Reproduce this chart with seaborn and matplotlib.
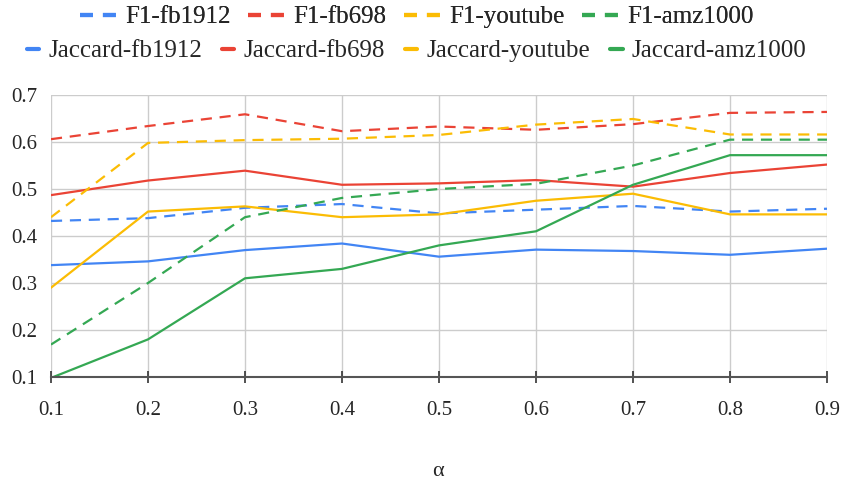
import matplotlib
matplotlib.use("Agg")
import matplotlib.pyplot as plt
from matplotlib.lines import Line2D
import pandas as pd
import seaborn as sns

sns.set_theme(style="whitegrid")
plt.rcParams['font.family'] = ['Liberation Serif', 'DejaVu Serif']

# values
alpha = [0.1, 0.2, 0.3, 0.4, 0.5, 0.6, 0.7, 0.8, 0.9]
datasets = ['fb1912', 'fb698', 'youtube', 'amz1000']

f1_fb1912 = [0.432, 0.438, 0.460, 0.468, 0.448, 0.456, 0.464, 0.452, 0.458]
f1_fb698 = [0.606, 0.634, 0.659, 0.623, 0.633, 0.626, 0.638, 0.662, 0.664]
f1_youtube = [0.440, 0.598, 0.604, 0.607, 0.615, 0.637, 0.649, 0.616, 0.616]
f1_amz1000 = [0.169, 0.300, 0.440, 0.481, 0.500, 0.511, 0.550, 0.605, 0.605]

jac_fb1912 = [0.338, 0.346, 0.370, 0.384, 0.356, 0.371, 0.368, 0.360, 0.373]
jac_fb698 = [0.487, 0.518, 0.539, 0.509, 0.512, 0.519, 0.505, 0.534, 0.552]
jac_youtube = [0.290, 0.452, 0.463, 0.440, 0.446, 0.475, 0.490, 0.446, 0.446]
jac_amz1000 = [0.098, 0.180, 0.310, 0.330, 0.380, 0.410, 0.509, 0.572, 0.572]

y_ticks = [0.1, 0.2, 0.3, 0.4, 0.5, 0.6, 0.7]

colors = {'fb1912': '#4285F4', 'fb698': '#EA4335',
          'youtube': '#FBBC04', 'amz1000': '#34A853'}

f1 = dict(zip(datasets, [f1_fb1912, f1_fb698, f1_youtube, f1_amz1000]))
jac = dict(zip(datasets, [jac_fb1912, jac_fb698, jac_youtube, jac_amz1000]))

fig = plt.figure(figsize=(8.43, 4.88), dpi=100)
ax = fig.add_axes([0.0605, 0.2275, 0.9205, 0.5778])

for name in datasets:
    df_f1 = pd.DataFrame({'alpha': alpha, 'value': f1[name]})
    sns.lineplot(data=df_f1, x='alpha', y='value', ax=ax, color=colors[name],
                 linewidth=1.6)
    ax.lines[-1].set_dashes([5, 3.5])
    df_j = pd.DataFrame({'alpha': alpha, 'value': jac[name]})
    sns.lineplot(data=df_j, x='alpha', y='value', ax=ax, color=colors[name],
                 linewidth=1.6)

ax.set_xlim(0.1, 0.9)
ax.set_ylim(0.1, 0.7)
ax.set_xticks(alpha)
ax.set_xticklabels([f'{a:.1f}' for a in alpha])
ax.set_yticks(y_ticks)
ax.set_yticklabels([f'{v:.1f}' for v in y_ticks])
ax.grid(True, color='#cccccc', linewidth=1)
for side in ['left', 'right', 'top']:
    ax.spines[side].set_visible(False)
ax.spines['bottom'].set_color('#555555')
ax.spines['bottom'].set_linewidth(1.5)
ax.tick_params(axis='x', direction='inout', length=8, width=1.2,
               color='#333333', pad=13, labelsize=15, bottom=True)
ax.tick_params(axis='y', length=0, pad=10, labelsize=15)
ax.set_xlabel('')
ax.set_ylabel('')
fig.text(0.52, 0.034, 'α', fontsize=16, ha='center', va='center')

# two centred legend rows, as in the reference
f1_handles = [Line2D([], [], color=colors[n], lw=3, dashes=[3.1, 2.4])
              for n in datasets]
jac_handles = [Line2D([], [], color=colors[n], lw=3) for n in datasets]

leg1 = fig.legend(f1_handles, ['F1-' + n for n in datasets], ncol=4,
                  loc='center', bbox_to_anchor=(0.494, 0.965),
                  frameon=False, fontsize=18, handlelength=1.45,
                  columnspacing=0.7, handletextpad=0.36,
                  borderpad=0, borderaxespad=0)
fig.add_artist(leg1)
fig.legend(jac_handles, ['Jaccard-' + n for n in datasets], ncol=4,
           loc='center', bbox_to_anchor=(0.494, 0.895),
           frameon=False, fontsize=18, handlelength=0.5,
           columnspacing=0.8, handletextpad=0.36,
           borderpad=0, borderaxespad=0)

fig.savefig('out.png', dpi=100)
